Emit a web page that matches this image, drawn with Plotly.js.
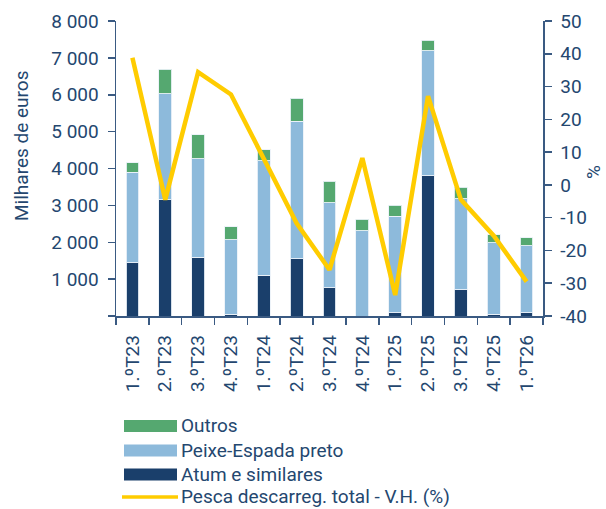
<!DOCTYPE html>
<html>
<head>
<meta charset="utf-8">
<script src="https://cdn.plot.ly/plotly-3.0.1.min.js"></script>
<style>html,body{margin:0;padding:0;background:#fff;}#chart{width:606px;height:509px;}</style>
</head>
<body>
<div id="chart"></div>
<script>
var categories = ['1.ºT23','2.ºT23','3.ºT23','4.ºT23','1.ºT24','2.ºT24','3.ºT24','4.ºT24','1.ºT25','2.ºT25','3.ºT25','4.ºT25','1.ºT26'];
var atum = [1440, 3150, 1600, 50, 1110, 1550, 770, 0, 90, 3810, 710, 50, 90];
var peixeEspada = [2460, 2880, 2670, 2020, 3100, 3730, 2300, 2310, 2610, 3390, 2470, 1940, 1810];
var outros = [260, 660, 640, 350, 300, 620, 580, 320, 310, 280, 310, 220, 220];
var pescaVH = [38.8, -4.5, 34.4, 27.6, 8.0, -11.7, -25.9, 8.2, -33.6, 27.1, -4.5, -15.5, -29.5];
var leftTickVals = [0, 1000, 2000, 3000, 4000, 5000, 6000, 7000, 8000];
var leftTickText = ['', '1 000', '2 000', '3 000', '4 000', '5 000', '6 000', '7 000', '8 000'];
var rightTickVals = [-40, -30, -20, -10, 0, 10, 20, 30, 40, 50];
var rightTickText = ['-40', '-30', '-20', '-10', '0', '10', '20', '30', '40', '50'];
var legendNames = ['Outros', 'Peixe-Espada preto', 'Atum e similares', 'Pesca descarreg. total - V.H. (%)'];

var textColor = '#24476f';
var axisColor = '#3a5a82';
var cDark = '#1a3f6b', cLight = '#8dbadb', cGreen = '#55a870', cYellow = '#ffcc00';
var barLine = {color: 'rgba(235,242,248,0.9)', width: 1};
var FS = 19;

var traces = [
  {type: 'bar', name: legendNames[2], x: categories, y: atum, marker: {color: cDark, line: barLine}},
  {type: 'bar', name: legendNames[1], x: categories, y: peixeEspada, marker: {color: cLight, line: barLine}},
  {type: 'bar', name: legendNames[0], x: categories, y: outros, marker: {color: cGreen, line: barLine}},
  {type: 'scatter', mode: 'lines', name: legendNames[3], x: categories, y: pescaVH, yaxis: 'y2',
   line: {color: cYellow, width: 4.5}}
];

// custom legend (wide swatches like the reference)
function px2x(px) { return (px - 116) / 427; }
function py2y(py) { return (316 - py) / 295; }
var shapes = [], annotations = [];
var swatchColors = [cGreen, cLight, cDark];
var rowY = [426, 450.5, 474.5, 497];
for (var i = 0; i < 3; i++) {
  shapes.push({type: 'rect', xref: 'paper', yref: 'paper', x0: px2x(124), x1: px2x(177),
    y0: py2y(rowY[i] + 6), y1: py2y(rowY[i] - 6), fillcolor: swatchColors[i], line: {width: 0}});
}
shapes.push({type: 'line', xref: 'paper', yref: 'paper', x0: px2x(122), x1: px2x(178),
  y0: py2y(rowY[3]), y1: py2y(rowY[3]), line: {color: cYellow, width: 3.5}});
for (var j = 0; j < 4; j++) {
  annotations.push({xref: 'paper', yref: 'paper', x: px2x(180), y: py2y(rowY[j]), xanchor: 'left', yanchor: 'middle',
    text: legendNames[j], showarrow: false, borderpad: 0, font: {family: 'Roboto', size: FS, color: textColor}});
}
annotations.push({xref: 'paper', yref: 'paper', x: 0, xshift: -95, y: py2y(146), xanchor: 'center', yanchor: 'middle',
  text: 'Milhares de euros', textangle: -90, showarrow: false, font: {family: 'Roboto', size: FS, color: textColor}});
annotations.push({xref: 'paper', yref: 'paper', x: 1, xshift: 51, y: py2y(172), xanchor: 'center', yanchor: 'middle',
  text: '%', textangle: -90, showarrow: false, font: {family: 'Roboto', size: FS, color: textColor}});

var layout = {
  width: 606, height: 509,
  margin: {l: 116, r: 63, t: 21, b: 193},
  paper_bgcolor: '#fff', plot_bgcolor: '#fff',
  font: {family: 'Roboto', size: FS, color: textColor},
  barmode: 'stack', bargap: 0.61,
  showlegend: false,
  xaxis: {type: 'category', showgrid: false, showline: true, linecolor: axisColor, linewidth: 1.5,
    ticks: 'outside', tickson: 'boundaries', ticklen: 7, tickcolor: axisColor, tickwidth: 1.5,
    tickangle: -90, tickfont: {size: FS, color: textColor}, zeroline: false, ticklabelstandoff: 10},
  yaxis: {range: [0, 8000], tickvals: leftTickVals, ticktext: leftTickText, showgrid: false, zeroline: false,
    showline: true, linecolor: axisColor, linewidth: 1.5, ticks: 'outside', ticklen: 7, tickcolor: axisColor, tickwidth: 1.5,
    tickfont: {size: FS, color: textColor}, ticklabelstandoff: 5},
  yaxis2: {overlaying: 'y', side: 'right', range: [-40, 50], tickvals: rightTickVals, ticktext: rightTickText,
    showgrid: false, zeroline: false, showline: true, linecolor: axisColor, linewidth: 1.5,
    ticks: 'outside', ticklen: 7, tickcolor: axisColor, tickwidth: 1.5, tickfont: {size: FS, color: textColor}, ticklabelstandoff: 5},
  shapes: shapes,
  annotations: annotations
};

Plotly.newPlot('chart', traces, layout, {displayModeBar: false, staticPlot: true});
</script>
</body>
</html>
